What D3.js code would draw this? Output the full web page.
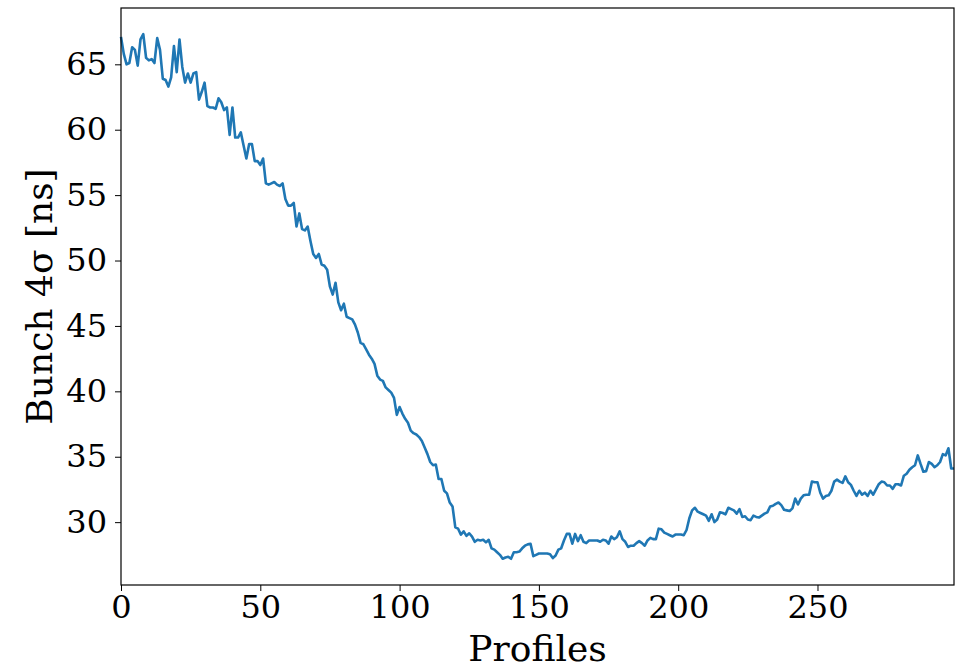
<!DOCTYPE html>
<html>
<head>
<meta charset="utf-8">
<script src="https://cdn.jsdelivr.net/npm/d3@7"></script>
<style>
  body { margin: 0; background: #fff; }
  svg text { font-family: 'DejaVu Serif', serif; fill: #000; }
</style>
</head>
<body>
<div id="container"></div>
<script>
// bunch length per profile
const bunchLength = [
  67.1, 65.8, 65.0, 65.1, 66.3, 66.1, 64.9, 66.9, 67.3, 65.5,
  65.3, 65.4, 65.1, 67.0, 66.1, 63.9, 63.8, 63.3, 64.0, 66.4,
  64.4, 66.9, 64.8, 63.6, 64.3, 63.6, 64.3, 64.4, 62.3, 62.9,
  63.6, 61.8, 61.7, 61.7, 61.6, 62.4, 62.1, 61.5, 61.7, 59.6,
  61.7, 59.4, 59.4, 59.8, 58.8, 57.8, 58.9, 58.9, 57.6, 57.6,
  57.3, 57.8, 55.9, 55.8, 55.9, 56.0, 55.8, 55.7, 55.9, 54.7,
  54.2, 54.2, 54.4, 52.6, 53.6, 52.4, 52.3, 52.6, 51.5, 50.5,
  50.2, 50.5, 49.7, 49.6, 49.3, 48.0, 47.4, 48.3, 46.8, 46.2,
  46.7, 45.7, 45.6, 45.5, 45.1, 44.5, 43.7, 43.6, 43.2, 42.8,
  42.5, 42.1, 41.2, 40.9, 40.8, 40.3, 40.1, 39.9, 39.5, 38.2,
  38.8, 38.3, 37.9, 37.6, 37.0, 36.8, 36.7, 36.5, 36.2, 35.7,
  35.2, 34.6, 34.35, 34.4, 33.3, 33.3, 32.4, 32.2, 31.5, 31.2,
  29.6, 29.5, 29.05, 29.3, 28.95, 29.15, 28.9, 28.5, 28.65, 28.6,
  28.65, 28.45, 28.65, 28.0, 27.9, 27.7, 27.5, 27.2, 27.3, 27.35,
  27.2, 27.7, 27.7, 27.75, 28.0, 28.2, 28.3, 28.35, 27.4, 27.5,
  27.6, 27.6, 27.6, 27.6, 27.55, 27.25, 27.45, 27.9, 28.0, 28.6,
  29.1, 29.1, 28.35, 29.1, 28.55, 29.0, 28.5, 28.4, 28.6, 28.6,
  28.6, 28.6, 28.5, 28.65, 28.6, 28.35, 28.9, 28.7, 28.85, 29.3,
  28.7, 28.5, 28.1, 28.2, 28.2, 28.4, 28.55, 28.4, 28.2, 28.6,
  28.8, 28.7, 28.7, 29.5, 29.45, 29.2, 29.1, 29.0, 28.9, 29.05,
  29.05, 29.05, 29.0, 29.4, 30.3, 30.9, 31.1, 30.8, 30.7, 30.6,
  30.5, 30.1, 30.6, 30.0, 30.2, 30.75, 30.7, 30.6, 31.1, 31.0,
  30.9, 30.65, 31.0, 30.4, 30.45, 30.2, 30.15, 30.5, 30.4, 30.35,
  30.5, 30.65, 30.75, 31.2, 31.25, 31.4, 31.5, 31.3, 30.95, 30.9,
  30.85, 31.05, 31.8, 31.35, 31.8, 32.05, 32.1, 32.1, 33.1, 33.05,
  33.05, 32.25, 31.8, 32.0, 32.05, 32.4, 33.1, 33.25, 33.1, 33.0,
  33.5, 33.05, 32.85, 32.4, 32.0, 32.4, 32.1, 32.25, 32.0, 32.4,
  32.1, 32.5, 32.9, 33.1, 33.05, 32.8, 32.8, 32.55, 32.9, 32.9,
  32.8, 33.55, 33.7, 34.0, 34.2, 34.35, 35.1, 34.45, 33.85, 33.9,
  34.6, 34.45, 34.2, 34.35, 34.6, 35.2, 35.1, 35.65, 34.1, 34.1
];
const xTicks = [0, 50, 100, 150, 200, 250];
const yTicks = [30, 35, 40, 45, 50, 55, 60, 65];
const xLabel = 'Profiles';
const yLabel = 'Bunch 4σ [ns]';

const W = 955, H = 665;
const margin = { top: 8, right: 1, bottom: 80, left: 121 };
const width = W - margin.left - margin.right,
  height = H - margin.top - margin.bottom;

const svg = d3.select('#container').append('svg')
  .attr('width', W)
  .attr('height', H);

const g = svg.append('g')
  .attr('transform', 'translate(' + margin.left + ',' + margin.top + ')');

const x = d3.scaleLinear()
  .domain([0, bunchLength.length - 1])
  .range([0, width]);

// matplotlib style 5% padding
const yMin = d3.min(bunchLength), yMax = d3.max(bunchLength);
const pad = (yMax - yMin) * 0.05;
const y = d3.scaleLinear()
  .domain([yMin - pad, yMax + pad])
  .range([height, 0]);

const line = d3.line()
  .x((d, i) => x(i))
  .y(d => y(d));

g.append('path')
  .datum(bunchLength)
  .attr('fill', 'none')
  .attr('stroke', '#1f77b4')
  .attr('stroke-width', 2.6)
  .attr('stroke-linejoin', 'round')
  .attr('d', line);

const xAxis = g.append('g')
  .attr('transform', 'translate(0,' + height + ')')
  .call(d3.axisBottom(x).tickValues(xTicks).tickSize(6).tickPadding(4));

const yAxis = g.append('g')
  .call(d3.axisLeft(y).tickValues(yTicks).tickSize(6).tickPadding(8));

[xAxis, yAxis].forEach(a => {
  a.select('.domain').remove();
  a.selectAll('line').attr('stroke', '#000').attr('stroke-width', 1);
  a.selectAll('text').style('font-size', '32px').style('font-family', "'DejaVu Serif', serif");
});

g.append('rect')
  .attr('width', width)
  .attr('height', height)
  .attr('fill', 'none')
  .attr('stroke', '#000')
  .attr('stroke-width', 1.2);

svg.append('text')
  .attr('x', margin.left + width / 2)
  .attr('y', H - 4)
  .attr('text-anchor', 'middle')
  .style('font-size', '36px')
  .text(xLabel);

svg.append('text')
  .attr('transform', 'translate(52,' + (margin.top + height / 2) + ') rotate(-90)')
  .attr('text-anchor', 'middle')
  .style('font-size', '36px')
  .text(yLabel);
</script>
</body>
</html>
